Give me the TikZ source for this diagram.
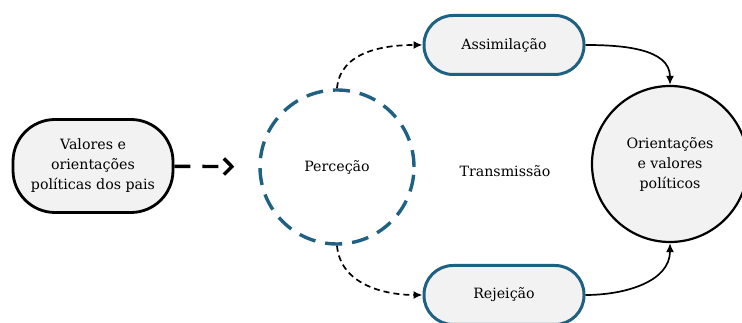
\documentclass[tikz,border=0pt]{standalone}
\usepackage{fontspec}
\setmainfont{DejaVu Serif}
\usetikzlibrary{arrows.meta}
\definecolor{tealblue}{RGB}{31,97,130}
\definecolor{boxgray}{RGB}{242,242,242}
\begin{document}
\begin{tikzpicture}[x=1pt,y=1pt,
  font=\fontsize{14.2}{20}\selectfont,
  parents/.style={draw=black,line width=2.8pt,fill=boxgray,rounded corners=42pt,
    minimum width=160pt,minimum height=93pt,align=center,inner sep=1pt},
  pill/.style={draw=tealblue,line width=3pt,fill=boxgray,rounded corners=29pt,
    minimum width=160pt,minimum height=59pt},
  percept/.style={circle,draw=tealblue,line width=3.4pt,dash pattern=on 17pt off 10pt,
    minimum size=154pt},
  result/.style={circle,draw=black,line width=2.2pt,fill=boxgray,minimum size=156pt,align=center},
  solidarrow/.style={-{Latex[length=9pt,width=8pt]},line width=1.7pt},
  dasharrow/.style={-{Latex[length=9pt,width=8pt]},line width=1.7pt,dash pattern=on 6pt off 4pt}]
  \useasboundingbox (0,0) rectangle (742,323);
  % Left-hand side part of the Figure
  \node[parents] (pais)     at (93,157)  {Valores e\\orientações\\políticas dos pais};
  \node[percept] (percecao) at (337,156) {Perceção};
  \draw[line width=3.4pt,dash pattern=on 16pt off 12pt,-{Straight Barb[length=8pt,width=16pt]},
    shorten >=24pt] (pais) -- (percecao);
  % Middle part: the two outcomes
  \node[pill]    (assim)    at (504,278) {Assimilação};
  \node[pill]    (rejeicao) at (504,28)  {Rejeição};
  \node          (transm)   at (505,152) {Transmissão};
  % Right-hand side part
  \node[result]  (orient)   at (670,159) {Orientações\\e valores\\políticos};
  \draw[dasharrow] (percecao.north) to[out=85,in=180] (assim.west);
  \draw[dasharrow] (percecao.south) to[out=-85,in=180] (rejeicao.west);
  \draw[solidarrow] (assim.east) to[out=0,in=90] (orient.north);
  \draw[solidarrow] (rejeicao.east) to[out=0,in=-90] (orient.south);
\end{tikzpicture}
\end{document}
